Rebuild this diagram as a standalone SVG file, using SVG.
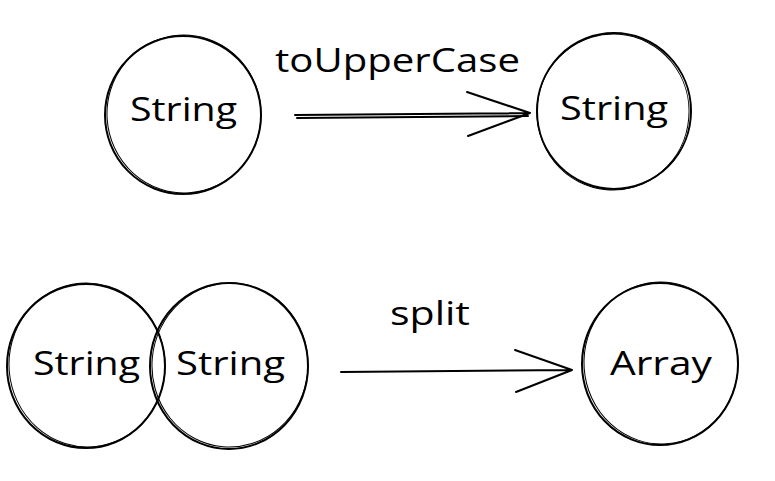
<svg xmlns="http://www.w3.org/2000/svg" width="775" height="481" viewBox="0 0 775 481">
  <style>
    .node { fill: none; stroke: #000; stroke-width: 2; }
    .node2 { fill: none; stroke: #000; stroke-width: 1; }
    .lbl { font-family: "Comic Sans MS", "Open Sans", "Liberation Sans", sans-serif; font-size: 32px; fill: #000; }
    .edge { fill: none; stroke: #000; stroke-width: 2; stroke-linecap: round; stroke-linejoin: round; }
  </style>
  <rect width="775" height="481" fill="#fff"/>
  <g id="node-string-1">
    <ellipse class="node" cx="183" cy="115" rx="78" ry="79"/>
    <ellipse class="node2" cx="184" cy="114" rx="77" ry="79" transform="rotate(-4 184 114)"/>
    <text class="lbl" x="130" y="121" textLength="107" lengthAdjust="spacingAndGlyphs">String</text>
  </g>
  <g id="node-string-2">
    <ellipse class="node" cx="614" cy="111" rx="77" ry="78"/>
    <ellipse class="node2" cx="613" cy="112" rx="76" ry="78" transform="rotate(5 613 112)"/>
    <text class="lbl" x="560" y="120" textLength="108" lengthAdjust="spacingAndGlyphs">String</text>
  </g>
  <g id="node-string-3">
    <ellipse class="node" cx="86" cy="366" rx="79" ry="82"/>
    <ellipse class="node2" cx="87" cy="365" rx="78" ry="82" transform="rotate(-5 87 365)"/>
    <text class="lbl" x="33" y="375" textLength="107" lengthAdjust="spacingAndGlyphs">String</text>
  </g>
  <g id="node-string-4">
    <ellipse class="node" cx="229" cy="366" rx="79" ry="83"/>
    <ellipse class="node2" cx="230" cy="365" rx="78" ry="82" transform="rotate(5 230 365)"/>
    <text class="lbl" x="176" y="375" textLength="109" lengthAdjust="spacingAndGlyphs">String</text>
  </g>
  <g id="node-array">
    <ellipse class="node" cx="660" cy="364" rx="78" ry="81"/>
    <ellipse class="node2" cx="661" cy="363" rx="77" ry="81" transform="rotate(-4 661 363)"/>
    <text class="lbl" x="610" y="375" textLength="102" lengthAdjust="spacingAndGlyphs">Array</text>
  </g>
  <g id="connectors">
    <path class="edge" d="M295 115 L530 113 M467 92 L530 113 L468 136"/>
    <path class="edge" d="M297 118 L528 116" stroke-width="1"/>
    <text class="lbl" x="275" y="72" textLength="245" lengthAdjust="spacingAndGlyphs">toUpperCase</text>
    <path class="edge" d="M341 372 L572 370 M515 350 L572 370 L516 392"/>
    <text class="lbl" x="390" y="325" textLength="80" lengthAdjust="spacingAndGlyphs">split</text>
  </g>
</svg>
